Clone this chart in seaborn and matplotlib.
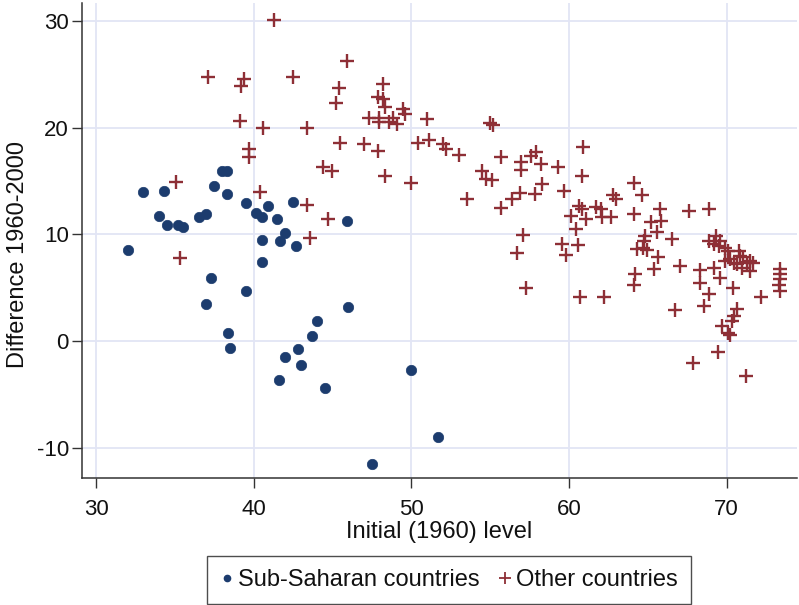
import matplotlib
matplotlib.use("Agg")
import matplotlib.pyplot as plt
from matplotlib.lines import Line2D
import seaborn as sns
import pandas as pd

# Sub-Saharan countries: initial 1960 level and change 1960-2000
ssa_x = [32.0, 33.0, 34.3, 34.0, 34.5, 35.2, 35.5, 36.5, 37.0, 37.5, 38.3, 38.0,
         38.3, 39.5, 40.15, 40.5, 40.9, 41.5, 40.5, 42.0, 41.7, 42.7, 42.5, 45.9,
         40.5, 37.3, 39.5, 37.0, 38.4, 38.5, 42.0, 41.6, 46.0, 44.0, 43.7, 42.8,
         43.0, 44.5, 50.0, 51.7, 47.5]
ssa_y = [8.5, 14.0, 14.1, 11.7, 10.9, 10.9, 10.7, 11.6, 11.9, 14.5, 13.8, 15.95,
         15.95, 12.95, 12.0, 11.6, 12.7, 11.4, 9.5, 10.1, 9.4, 8.9, 13.0, 11.3,
         7.4, 5.9, 4.7, 3.5, 0.8, -0.6, -1.5, -3.6, 3.2, 1.9, 0.5, -0.7,
         -2.2, -4.4, -2.7, -8.9, -11.5]

# Other countries
oth_x = [35.1, 35.3, 41.3, 37.1, 39.4, 39.2, 42.5, 39.1, 40.6, 39.7, 39.7, 40.4, 43.6,
         45.9, 45.4, 45.2, 43.4, 45.5, 47.0, 47.9, 48.2, 47.9, 48.2, 48.3, 47.3, 47.95,
         47.95, 48.6, 48.85, 49.1, 49.5, 49.6, 51.0, 50.4, 51.1, 52.0, 52.2, 53.0, 44.4,
         44.95, 48.3, 50.0, 53.5, 43.4, 44.7,
         55.0, 55.2, 55.7, 54.5, 54.75, 55.1, 56.95, 56.95, 57.6, 57.9, 58.2, 59.3, 55.7,
         56.4, 56.9, 57.85, 58.3, 59.7, 60.9, 60.8, 60.65, 60.85, 60.1, 61.1, 60.45, 61.7,
         62.0, 62.1, 62.65, 62.8, 62.95, 64.1, 64.1, 57.05, 56.7, 59.55, 59.8, 60.6, 57.3,
         60.7, 62.2, 64.3, 64.2, 64.1,
         64.6, 65.75, 65.85, 65.2, 67.6, 68.9, 64.85, 65.6, 64.75, 64.7, 64.95, 66.55,
         65.65, 67.05, 65.4,
         68.85, 69.3, 69.6, 69.2, 69.5, 69.9, 70.1, 70.75, 70.85, 71.05, 70.2, 70.45, 69.9,
         70.65, 70.95, 71.3, 71.5, 71.7, 71.5, 68.3, 68.3, 69.2, 69.55, 70.4, 68.85, 68.55,
         66.75, 70.65, 70.45, 70.35, 69.7, 70.1, 70.2, 72.2, 73.4, 73.4, 73.4, 73.3, 73.4,
         69.45, 67.85, 71.2]
oth_y = [14.9, 7.8, 30.1, 24.75, 24.5, 23.85, 24.75, 20.6, 20.0, 18.0, 17.2, 14.0, 9.65,
         26.2, 23.7, 22.3, 20.0, 18.6, 18.5, 17.8, 24.1, 22.9, 22.7, 21.9, 20.9, 20.9,
         20.5, 20.5, 20.9, 20.3, 21.7, 21.3, 20.8, 18.6, 18.8, 18.45, 18.0, 17.45, 16.3,
         15.95, 15.5, 14.85, 13.35, 12.8, 11.4,
         20.4, 20.2, 17.2, 15.95, 15.2, 15.1, 16.8, 16.0, 17.3, 17.7, 16.6, 16.35, 12.5,
         13.3, 13.9, 13.8, 14.7, 14.1, 18.2, 15.5, 12.7, 12.4, 11.7, 11.4, 10.55, 12.6,
         12.35, 11.6, 11.65, 13.7, 13.3, 14.85, 11.9, 9.95, 8.25, 9.1, 8.1, 9.0, 5.0,
         4.15, 4.15, 8.65, 6.3, 5.25,
         13.7, 12.35, 11.3, 11.2, 12.15, 12.4, 9.85, 10.2, 9.4, 8.7, 8.5, 9.55,
         7.85, 7.05, 6.75,
         9.4, 9.85, 9.4, 9.1, 8.9, 8.7, 8.45, 8.45, 8.0, 7.85, 7.7, 7.35, 7.5,
         7.2, 6.9, 7.35, 7.5, 7.35, 6.6, 6.65, 5.5, 6.9, 5.95, 4.95, 4.45, 3.3,
         2.9, 3.0, 2.35, 1.95, 1.45, 0.8, 0.6, 4.15, 6.75, 6.3, 5.8, 5.25, 4.75,
         -1.0, -2.0, -3.2]

group_names = ["Sub-Saharan countries", "Other countries"]
x_ticks = [30, 40, 50, 60, 70]
y_ticks = [-10, 0, 10, 20, 30]

ssa = pd.DataFrame({"initial": ssa_x, "diff": ssa_y})
oth = pd.DataFrame({"initial": oth_x, "diff": oth_y})

navy = "#1c3c6e"
maroon = "#8e2f36"
grid_col = "#e2e5f5"

sns.set_theme(style="white")
plt.rcParams["font.family"] = ["Liberation Sans", "DejaVu Sans"]
plt.rcParams["axes.unicode_minus"] = False

fig = plt.figure(figsize=(7.99, 6.05), dpi=100)
ax = fig.add_axes([82 / 799, 127 / 605, 715 / 799, 475 / 605])

sns.scatterplot(data=oth, x="initial", y="diff", marker="+", s=100,
                color=maroon, linewidth=1.7, ax=ax, zorder=3, legend=False)
sns.scatterplot(data=ssa, x="initial", y="diff", marker="o", s=56,
                color=navy, edgecolor=navy, linewidth=0.5, ax=ax, zorder=4,
                legend=False)

ax.set_xlim(29.11, 74.46)
ax.set_ylim(-12.78, 31.65)
ax.set_xticks(x_ticks)
ax.set_yticks(y_ticks)
ax.grid(True, color=grid_col, linewidth=1.3, zorder=0)
ax.set_axisbelow(True)

for side in ("top", "right"):
    ax.spines[side].set_visible(False)
for side in ("left", "bottom"):
    ax.spines[side].set_color("#333333")
    ax.spines[side].set_linewidth(1.1)

ax.tick_params(axis="both", which="both", direction="out", length=7, width=1.0,
               color="#333333", labelsize=16, labelcolor="#111111",
               left=True, bottom=True)
ax.tick_params(axis="x", pad=8)
ax.tick_params(axis="y", pad=2.5)

ax.set_xlabel("Initial (1960) level", fontsize=17, color="#111111", labelpad=0.5)
ax.set_ylabel("Difference 1960-2000", fontsize=17, color="#111111", labelpad=4)
ax.yaxis.set_label_coords(-0.074, (478 - 254) / 475)

handles = [
    Line2D([], [], linestyle="none", marker="o", markersize=4.5, color=navy),
    Line2D([], [], linestyle="none", marker="+", markersize=9, markeredgewidth=1.3,
           color=maroon),
]
leg = fig.legend(handles, group_names, loc="center", ncol=2,
                 bbox_to_anchor=(449 / 799, 25 / 605), fontsize=17,
                 frameon=True, fancybox=False, edgecolor="#222222",
                 handlelength=0.6, handletextpad=0.15, columnspacing=0.8,
                 borderpad=0.55, borderaxespad=0)
leg.get_frame().set_linewidth(1.0)
for t in leg.get_texts():
    t.set_color("#111111")

fig.savefig("out.png", dpi=100, facecolor="white")
